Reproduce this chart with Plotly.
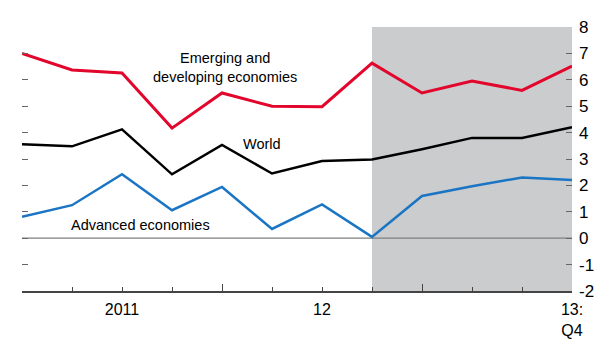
import plotly.graph_objects as go

quarters = ["2011Q1","2011Q2","2011Q3","2011Q4","2012Q1","2012Q2","2012Q3","2012Q4",
            "2013Q1","2013Q2","2013Q3","2013Q4"]
emerging = [7.0, 6.37, 6.26, 4.17, 5.5, 5.0, 4.98, 6.63, 5.5, 5.95, 5.6, 6.52]
world = [3.56, 3.48, 4.12, 2.42, 3.53, 2.45, 2.92, 2.98, 3.37, 3.8, 3.8, 4.2]
advanced = [0.81, 1.25, 2.42, 1.06, 1.94, 0.35, 1.28, 0.05, 1.6, 1.97, 2.3, 2.2]
y_ticks = [-2, -1, 0, 1, 2, 3, 4, 5, 6, 7, 8]
y_tick_text = ["-2", "-1", "0", "1", "2", "3", "4", "5", "6", "7", "8"]
x_label_pos = [2, 6, 11]
x_label_text = ["2011", "12", "13:<br>Q4"]
year_start_ticks = [0, 4, 8]
forecast_start = 7

xs = list(range(len(quarters)))
font_main = "Liberation Sans, Arial, sans-serif"
font_narrow = "Liberation Sans Narrow, Arial Narrow, Liberation Sans, sans-serif"

fig = go.Figure()
fig.add_trace(go.Scatter(x=xs, y=emerging, mode="lines", line=dict(color="#e2062c", width=3), showlegend=False))
fig.add_trace(go.Scatter(x=xs, y=world, mode="lines", line=dict(color="#000000", width=2.5), showlegend=False))
fig.add_trace(go.Scatter(x=xs, y=advanced, mode="lines", line=dict(color="#1a75c4", width=2.5), showlegend=False))
fig.add_trace(go.Scatter(x=[0], y=[0], yaxis="y2", mode="markers", marker=dict(opacity=0), showlegend=False, hoverinfo="skip"))
fig.add_trace(go.Scatter(x=[0], y=[0], xaxis="x2", mode="markers", marker=dict(opacity=0), showlegend=False, hoverinfo="skip"))

fig.add_shape(type="rect", xref="x", yref="y", x0=forecast_start, x1=xs[-1], y0=y_ticks[0], y1=y_ticks[-1],
              fillcolor="#cbcccd", line=dict(width=0), layer="below")
fig.add_shape(type="line", xref="x", yref="y", x0=xs[0], x1=xs[-1], y0=0, y1=0,
              line=dict(color="#7f7f7f", width=1.2), layer="below")

fig.update_layout(
    width=600, height=343,
    margin=dict(l=22, r=28, t=27, b=52, autoexpand=False),
    plot_bgcolor="white", paper_bgcolor="white",
    font=dict(family=font_main, size=16, color="#000000"),
    xaxis=dict(range=[0, 11], tickmode="array", tickvals=year_start_ticks, ticks="inside", ticklen=7,
               tickcolor="#444444", tickwidth=1.2, showticklabels=False, showgrid=False, zeroline=False,
               showline=True, linecolor="#444444", linewidth=1.5, automargin=False,
               minor=dict(tickmode="linear", tick0=0, dtick=1, ticks="inside", ticklen=4, tickcolor="#444444")),
    xaxis2=dict(range=[0, 11], overlaying="x", side="bottom", anchor="y", tickmode="array",
                tickvals=x_label_pos, ticktext=x_label_text, ticks="", showgrid=False, zeroline=False,
                showline=False, automargin=False, ticklabelstandoff=7, tickfont=dict(size=16, family=font_main)),
    yaxis=dict(range=[-2, 8], tickmode="array", tickvals=y_ticks, ticks="inside", ticklen=6, automargin=False,
               tickcolor="#666666", showticklabels=False, showgrid=False, zeroline=False, showline=False),
    yaxis2=dict(range=[-2, 8], overlaying="y", side="right", tickmode="array", tickvals=y_ticks,
                ticktext=y_tick_text, ticks="inside", ticklen=6, tickcolor="#666666", showgrid=False,
                zeroline=False, showline=False, automargin=False, ticklabelstandoff=6,
                tickfont=dict(size=17, family=font_main)),
)

fig.add_annotation(x=4.05, y=6.45, text="Emerging and<br>developing economies", showarrow=False,
                   xref="x", yref="y", font=dict(family=font_narrow, size=14.5), align="center")
fig.add_annotation(x=4.8, y=3.55, text="World", showarrow=False, xref="x", yref="y",
                   font=dict(family=font_narrow, size=14.5))
fig.add_annotation(x=2.37, y=0.5, text="Advanced economies", showarrow=False, xref="x", yref="y",
                   font=dict(family=font_narrow, size=14.5))

fig.write_html("out.html")
